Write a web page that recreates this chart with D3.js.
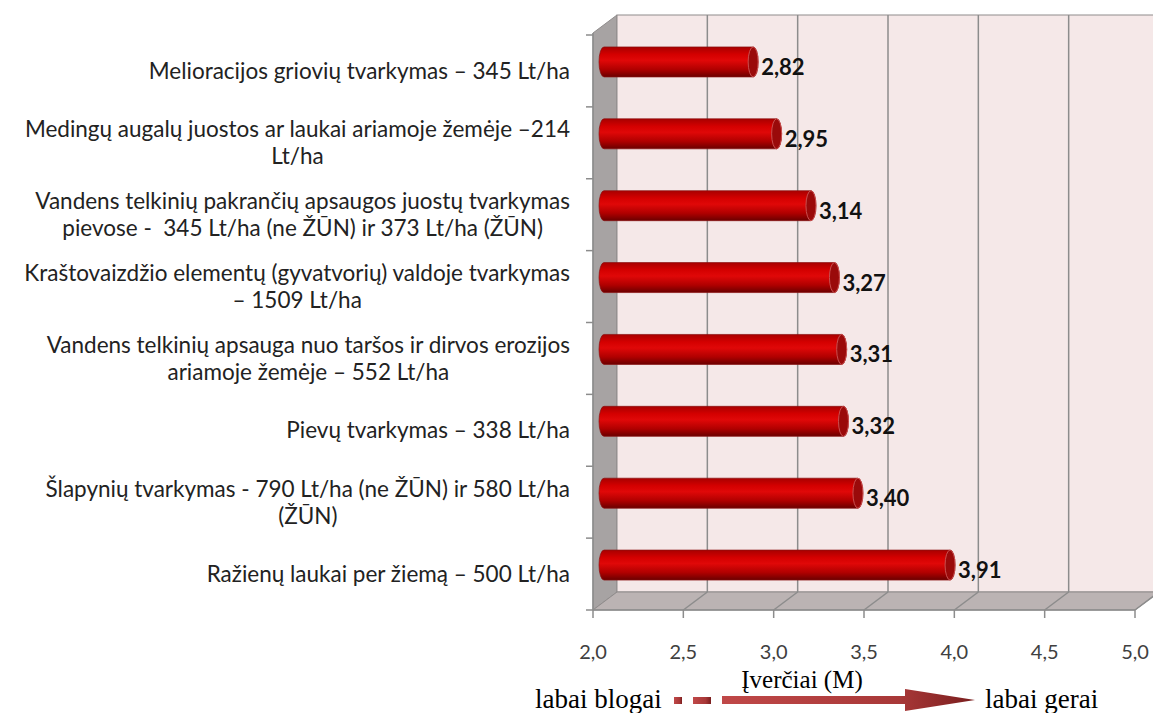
<!DOCTYPE html>
<html>
<head>
<meta charset="utf-8" />
<title>Įverčiai</title>
<style>
  body { margin: 0; background: #fff; }
  svg text { font-family: "Lato", sans-serif; white-space: pre; }
  svg text.serif { font-family: "Liberation Serif", serif; }
</style>
</head>
<body>
<svg></svg>
<script src="https://d3js.org/d3.v7.min.js"></script>
<script>
// chart data, top to bottom
const categories = [
  ["Melioracijos griovių tvarkymas – 345 Lt/ha"],
  ["Medingų augalų juostos ar laukai ariamoje žemėje –214", "Lt/ha"],
  ["Vandens telkinių pakrančių apsaugos juostų tvarkymas", "pievose -  345 Lt/ha (ne ŽŪN) ir 373 Lt/ha (ŽŪN)"],
  ["Kraštovaizdžio elementų (gyvatvorių) valdoje tvarkymas", "– 1509 Lt/ha"],
  ["Vandens telkinių apsauga nuo taršos ir dirvos erozijos", "ariamoje žemėje – 552 Lt/ha"],
  ["Pievų tvarkymas – 338 Lt/ha"],
  ["Šlapynių tvarkymas - 790 Lt/ha (ne ŽŪN) ir 580 Lt/ha", "(ŽŪN)"],
  ["Ražienų laukai per žiemą – 500 Lt/ha"]
];
const values = [2.82, 2.95, 3.14, 3.27, 3.31, 3.32, 3.40, 3.91];
const ticks = [2.0, 2.5, 3.0, 3.5, 4.0, 4.5, 5.0];
const axisTitle = "Įverčiai (M)";
const leftNote = "labai blogai", rightNote = "labai gerai";

const width = 1153, height = 713;
const svg = d3.select("svg").attr("width", width).attr("height", height);
const defs = svg.append("defs");

// front plane scales, depth offset for 3D look
const x = d3.scaleLinear().domain([2, 5]).range([593, 1135]);
const y = d3.scaleBand().domain(d3.range(categories.length)).range([35, 610]);
const dx = 24, dy = -18;
const yTop = 33, yBot = 610;

// bar gradient
const g1 = defs.append("linearGradient").attr("id", "cyl").attr("x1", 0).attr("y1", 0).attr("x2", 0).attr("y2", 1);
g1.append("stop").attr("offset", "0%").attr("stop-color", "#a80000");
g1.append("stop").attr("offset", "25%").attr("stop-color", "#d40000");
g1.append("stop").attr("offset", "45%").attr("stop-color", "#e00808");
g1.append("stop").attr("offset", "75%").attr("stop-color", "#b00000");
g1.append("stop").attr("offset", "100%").attr("stop-color", "#6a0000");

const g2 = defs.append("linearGradient").attr("id", "arr").attr("x1", 0).attr("y1", 0).attr("x2", 1).attr("y2", 0);
g2.append("stop").attr("offset", "0%").attr("stop-color", "#c04848");
g2.append("stop").attr("offset", "70%").attr("stop-color", "#a83838");
g2.append("stop").attr("offset", "100%").attr("stop-color", "#7a1e1e");

// walls
svg.append("polygon")
  .attr("points", [[x(2), yTop], [x(2) + dx, yTop + dy], [x(2) + dx, yBot + dy], [x(2), yBot]].join(" "))
  .attr("fill", "#a7a3a3").attr("stroke", "#8f8b8b");
svg.append("rect")
  .attr("x", x(2) + dx).attr("y", yTop + dy)
  .attr("width", x(5) - x(2)).attr("height", yBot - yTop)
  .attr("fill", "#f5e8e8").attr("stroke", "#8f8b8b");
svg.append("polygon")
  .attr("points", [[x(2), yBot], [x(5), yBot], [x(5) + dx, yBot + dy], [x(2) + dx, yBot + dy]].join(" "))
  .attr("fill", "#bbb3b3").attr("stroke", "#8f8b8b");

// gridlines on wall and floor
const grid = svg.append("g").attr("stroke", "#8c8c8c").attr("stroke-width", 1.5);
ticks.slice(1).forEach(t => {
  grid.append("line").attr("x1", x(t) + dx).attr("x2", x(t) + dx).attr("y1", yTop + dy).attr("y2", yBot + dy);
  grid.append("line").attr("x1", x(t)).attr("x2", x(t) + dx).attr("y1", yBot).attr("y2", yBot + dy);
});

// axes
const axisG = svg.append("g").attr("stroke", "#8c8c8c").attr("stroke-width", 1.5);
axisG.append("line").attr("x1", x(2)).attr("x2", x(5)).attr("y1", yBot).attr("y2", yBot);
axisG.append("line").attr("x1", x(2)).attr("x2", x(2)).attr("y1", yTop).attr("y2", yBot);
ticks.forEach(t => {
  axisG.append("line").attr("x1", x(t)).attr("x2", x(t)).attr("y1", yBot).attr("y2", yBot + 8);
});
d3.range(categories.length + 1).forEach(i => {
  const yy = 35 + i * y.step();
  axisG.append("line").attr("x1", x(2) - 7).attr("x2", x(2)).attr("y1", yy).attr("y2", yy);
});

svg.append("g").selectAll("text").data(ticks).join("text")
  .attr("x", d => x(d)).attr("y", 659)
  .attr("text-anchor", "middle").attr("font-size", 20).attr("fill", "#404040")
  .text(d => d.toFixed(1).replace(".", ","));

// bars as cylinders at mid depth
const bh = 30;
const bars = svg.append("g").selectAll("g").data(values).join("g")
  .attr("transform", (d, i) => `translate(${dx / 2},${y(i) + y.bandwidth() / 2 + dy / 2})`);
bars.append("path")
  .attr("d", d => {
    const x0 = x(2) - 6, x1 = x(d), r = bh / 2, rx = 5;
    return `M${x0 + rx},${-r} L${x1},${-r} A${rx},${r} 0 0 1 ${x1},${r} L${x0 + rx},${r} A${rx},${r} 0 0 1 ${x0 + rx},${-r} Z`;
  })
  .attr("fill", "url(#cyl)").attr("stroke", "#8a1010").attr("stroke-width", 0.7);
bars.append("ellipse")
  .attr("cx", d => x(d)).attr("cy", 0).attr("rx", 5).attr("ry", bh / 2)
  .attr("fill", "#9a0a0a").attr("stroke", "#c85050").attr("stroke-width", 1);

svg.append("g").selectAll("text").data(values).join("text")
  .attr("x", d => x(d) + dx / 2 + 8).attr("y", (d, i) => y(i) + y.bandwidth() / 2 + 4)
  .attr("font-size", 22).attr("font-weight", "bold").attr("fill", "#111")
  .text(d => d.toFixed(2).replace(".", ","));

// category labels
const lab = svg.append("g").selectAll("text").data(categories).join("text")
  .attr("x", 570).attr("text-anchor", "end").attr("font-size", 22.5).attr("fill", "#222")
  .attr("y", (d, i) => y(i) + y.bandwidth() / 2 + 8 - (d.length - 1) * 13.5);
lab.selectAll("tspan").data(d => d).join("tspan")
  .attr("x", 570)
  .attr("dy", (d, i) => i === 0 ? 0 : 27)
  .text(d => d);
// center the second line of wrapped labels
lab.each(function (d) {
  if (d.length === 2) {
    const t = d3.select(this).selectAll("tspan").nodes();
    const w0 = t[0].getComputedTextLength();
    d3.select(t[1]).attr("x", 570 - w0 / 2).attr("text-anchor", "middle");
  }
});

// axis title and arrow
svg.append("text").attr("class", "serif").attr("x", 802).attr("y", 688).attr("text-anchor", "middle")
  .attr("font-size", 25).text(axisTitle);
svg.append("text").attr("class", "serif").attr("x", 535).attr("y", 708)
  .attr("font-size", 27).text(leftNote);
svg.append("text").attr("class", "serif").attr("x", 985).attr("y", 708)
  .attr("font-size", 27).text(rightNote);

const ay = 700;
const arrow = svg.append("g").attr("fill", "url(#arr)");
arrow.append("rect").attr("x", 674).attr("y", ay - 3).attr("width", 8).attr("height", 7);
arrow.append("rect").attr("x", 693).attr("y", ay - 3).attr("width", 18).attr("height", 7);
arrow.append("path")
  .attr("d", `M722,${ay - 4} L905,${ay - 4} L905,${ay - 11} L975,${ay} L905,${ay + 11} L905,${ay + 4} L722,${ay + 4} Z`);
</script>
</body>
</html>
